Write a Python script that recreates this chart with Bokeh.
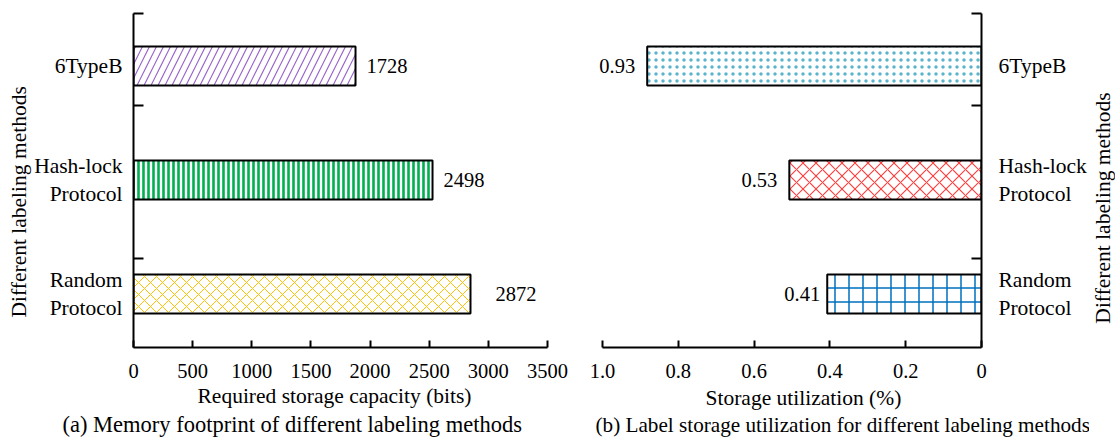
import math
from bokeh.plotting import figure
from bokeh.layouts import row
from bokeh.models import Range1d, FixedTicker, Label, LabelSet, ColumnDataSource, Title
from bokeh.core.properties import value
from bokeh.embed import file_html
from bokeh.resources import INLINE

# ---------------- data ----------------
methods = ["Random Protocol", "Hash-lock Protocol", "6TypeB"]
method_tick_text = ["Random\nProtocol", "Hash-lock\nProtocol", "6TypeB"]
method_pos = [1, 2, 3]

# (a) memory footprint: bar lengths as drawn and their printed labels
memory_bits = [2849, 2528, 1877]
memory_text = ["2872", "2498", "1728"]

# (b) storage utilization: bar lengths as drawn and their printed labels
util_pct = [0.407, 0.507, 0.882]
util_text = ["0.41", "0.53", "0.93"]

x_ticks_left = [0, 500, 1000, 1500, 2000, 2500, 3000, 3500]
x_ticks_right = [1.0, 0.8, 0.6, 0.4, 0.2, 0]
x_tick_text_right = ["1.0", "0.8", "0.6", "0.4", "0.2", "0"]
y_marks = [1.312, 2.654, 3.46]

# ---------------- styles ----------------
FONT = "Liberation Serif"
TXT = "21.5px"
NUM = "20.5px"
BAR_H = 0.342
H = 439

left_style = [  # Random, Hash-lock, 6TypeB
    dict(hatch_pattern="x", hatch_color="#FFC000", hatch_scale=12, hatch_weight=1),
    dict(hatch_pattern="|", hatch_color="#00B050", hatch_scale=5, hatch_weight=2.6),
    dict(hatch_pattern="/", hatch_color="#9966CC", hatch_scale=14, hatch_weight=1.2),
]
left_gap = [25, 11, 11]
right_style = [
    dict(hatch_pattern="+", hatch_color="#0070C0", hatch_scale=14, hatch_weight=1.5),
    dict(hatch_pattern="x", hatch_color="#FF3B3B", hatch_scale=13, hatch_weight=1.1),
    dict(hatch_pattern=".", hatch_color="#5BB4CC", hatch_scale=7, hatch_weight=0.8),
]
right_gap = [-7, -12, -12]


def base_fig(width, x_range, min_left, min_right, yloc):
    p = figure(width=width, height=H, x_range=x_range,
               y_range=Range1d(0.531, 3.461), y_axis_location=yloc,
               output_backend="svg", toolbar_location=None,
               min_border_left=min_left, min_border_right=min_right,
               min_border_top=13, min_border_bottom=H - 347, title=None)
    p.outline_line_color = None
    p.xgrid.visible = False
    p.ygrid.visible = False
    p.background_fill_color = "white"
    p.border_fill_color = "white"
    for ax in (p.xaxis[0], p.yaxis[0]):
        ax.axis_line_width = 2
        ax.axis_line_color = "black"
        ax.major_tick_line_width = 2
        ax.major_tick_line_color = "black"
        ax.minor_tick_line_width = 2
        ax.minor_tick_line_color = "black"
        ax.major_label_text_font = FONT
        ax.major_label_text_color = "black"
    p.xaxis.major_tick_in = 7
    p.xaxis.major_tick_out = 0
    p.xaxis.major_label_text_font_size = NUM
    p.xaxis.major_label_standoff = 16
    p.yaxis.ticker = FixedTicker(ticks=method_pos, minor_ticks=y_marks)
    p.yaxis.major_tick_in = 0
    p.yaxis.major_tick_out = 0
    p.yaxis.minor_tick_in = 10
    p.yaxis.minor_tick_out = 0
    p.yaxis.major_label_text_font_size = TXT
    p.yaxis.major_label_overrides = {k: t for k, t in zip(method_pos, method_tick_text)}
    return p


def bars(p, values, styles):
    for ypos, v, st in zip(method_pos, values, styles):
        p.hbar(y=[ypos], left=[0], right=[v], height=BAR_H,
               fill_color="white", line_color="black", line_width=2, **st)


def value_labels(p, values, texts, gaps, align):
    src = ColumnDataSource(dict(x=values, y=method_pos, text=texts, gap=gaps))
    p.add_layout(LabelSet(x="x", y="y", text="text", x_offset="gap", source=src,
                          text_align=align, text_baseline="middle",
                          text_font=value(FONT), text_font_size=value(NUM),
                          text_color="black"))


def side_text(p, side, text, offset, standoff=0, size=TXT):
    p.add_layout(Title(text=text, align="left", offset=offset, standoff=standoff,
                       vertical_align="middle", text_font=FONT, text_font_size=size,
                       text_font_style="normal", text_color="black"), side)


# ---------------- (a) ----------------
p1 = base_fig(575, Range1d(0, 3500), 133, 28, "left")
p1.xaxis.ticker = FixedTicker(ticks=x_ticks_left)
p1.yaxis.major_label_standoff = 11
bars(p1, memory_bits, left_style)
value_labels(p1, memory_bits, memory_text, left_gap, "left")
side_text(p1, "left", "Different labeling methods", 30)
side_text(p1, "below", "Required storage capacity (bits)", 64, standoff=4)
side_text(p1, "below", "(a) Memory footprint of different labeling methods", -71,
          standoff=0, size="22.5px")

# ---------------- (b) ----------------
pad = 6 / 381
p2 = base_fig(514, Range1d(1.0 + pad, 0), 21, 106, "right")
p2.xaxis.ticker = FixedTicker(ticks=x_ticks_right)
p2.xaxis.bounds = (0, 1.0)
p2.xaxis.major_label_overrides = {k: t for k, t in zip(x_ticks_right, x_tick_text_right)}
p2.yaxis.major_label_standoff = 17
bars(p2, util_pct, right_style)
value_labels(p2, util_pct, util_text, right_gap, "right")
side_text(p2, "below", "Storage utilization (%)", 109, standoff=9)
side_text(p2, "below", "(b) Label storage utilization for different labeling methods", -1,
          standoff=-8, size="21.2px")

# ---------------- right-hand vertical title ----------------
p3 = figure(width=26, height=H, x_range=Range1d(0, 1), y_range=Range1d(0, 1),
            x_axis_location=None, y_axis_location=None, output_backend="svg",
            toolbar_location=None, min_border_left=0, min_border_right=0,
            min_border_top=13, min_border_bottom=H - 347, title=None)
p3.outline_line_color = None
p3.xgrid.visible = False
p3.ygrid.visible = False
p3.add_layout(Label(x=13, y=347 - 207.5, x_units="screen", y_units="screen",
                    text="Different labeling methods", angle=math.pi / 2,
                    text_align="center", text_baseline="middle",
                    text_font=FONT, text_font_size=TXT, text_color="black"))

layout = row(p1, p2, p3)
open("out.html", "w").write(file_html(layout, INLINE))
